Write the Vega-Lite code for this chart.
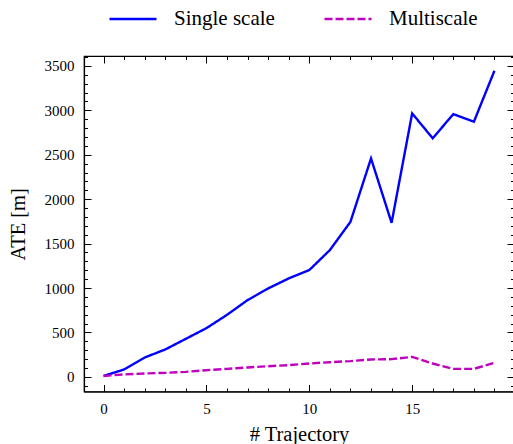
{
  "$schema": "https://vega.github.io/schema/vega-lite/v6.json",
  "autosize": "none",
  "padding": {"left": 84, "top": 56, "right": 0, "bottom": 52},
  "width": 430,
  "height": 335.5,
  "background": "white",
  "config": {
    "view": {"stroke": "black", "strokeWidth": 1.2},
    "font": "Liberation Serif",
    "axis": {
      "labelFont": "Liberation Serif",
      "titleFont": "Liberation Serif",
      "labelColor": "black",
      "titleColor": "black",
      "tickColor": "black",
      "domainColor": "black",
      "domainWidth": 1.2,
      "tickWidth": 1,
      "grid": false,
      "labelFontSize": 15,
      "titleFontSize": 20.5,
      "titleFontWeight": "normal"
    },
    "legend": {
      "labelFont": "Liberation Serif",
      "labelFontSize": 21,
      "labelColor": "black"
    }
  },
  "data": {
    "values": [
      {"traj": 0, "ate": 10, "method": "Single scale"},
      {"traj": 1, "ate": 83, "method": "Single scale"},
      {"traj": 2, "ate": 218, "method": "Single scale"},
      {"traj": 3, "ate": 308, "method": "Single scale"},
      {"traj": 4, "ate": 428, "method": "Single scale"},
      {"traj": 5, "ate": 548, "method": "Single scale"},
      {"traj": 6, "ate": 698, "method": "Single scale"},
      {"traj": 7, "ate": 864, "method": "Single scale"},
      {"traj": 8, "ate": 995, "method": "Single scale"},
      {"traj": 9, "ate": 1108, "method": "Single scale"},
      {"traj": 10, "ate": 1202, "method": "Single scale"},
      {"traj": 11, "ate": 1427, "method": "Single scale"},
      {"traj": 12, "ate": 1745, "method": "Single scale"},
      {"traj": 13, "ate": 2459, "method": "Single scale"},
      {"traj": 14, "ate": 1734, "method": "Single scale"},
      {"traj": 15, "ate": 2966, "method": "Single scale"},
      {"traj": 16, "ate": 2685, "method": "Single scale"},
      {"traj": 17, "ate": 2958, "method": "Single scale"},
      {"traj": 18, "ate": 2872, "method": "Single scale"},
      {"traj": 19, "ate": 3446, "method": "Single scale"},
      {"traj": 0, "ate": 10, "method": "Multiscale"},
      {"traj": 1, "ate": 27, "method": "Multiscale"},
      {"traj": 2, "ate": 38, "method": "Multiscale"},
      {"traj": 3, "ate": 45, "method": "Multiscale"},
      {"traj": 4, "ate": 56, "method": "Multiscale"},
      {"traj": 5, "ate": 75, "method": "Multiscale"},
      {"traj": 6, "ate": 90, "method": "Multiscale"},
      {"traj": 7, "ate": 106, "method": "Multiscale"},
      {"traj": 8, "ate": 120, "method": "Multiscale"},
      {"traj": 9, "ate": 132, "method": "Multiscale"},
      {"traj": 10, "ate": 150, "method": "Multiscale"},
      {"traj": 11, "ate": 165, "method": "Multiscale"},
      {"traj": 12, "ate": 177, "method": "Multiscale"},
      {"traj": 13, "ate": 196, "method": "Multiscale"},
      {"traj": 14, "ate": 199, "method": "Multiscale"},
      {"traj": 15, "ate": 225, "method": "Multiscale"},
      {"traj": 16, "ate": 150, "method": "Multiscale"},
      {"traj": 17, "ate": 90, "method": "Multiscale"},
      {"traj": 18, "ate": 90, "method": "Multiscale"},
      {"traj": 19, "ate": 158, "method": "Multiscale"}
    ]
  },
  "resolve": {"axis": {"x": "independent", "y": "independent"}},
  "layer": [
    {
      "mark": {"type": "line", "strokeWidth": 2.4},
      "encoding": {
        "x": {"field": "traj", "type": "quantitative",
          "scale": {"domain": [-0.95, 19.95], "nice": false, "zero": false},
          "axis": {"orient": "bottom", "values": [0, 5, 10, 15], "tickSize": -7, "labelPadding": 17, "title": "# Trajectory", "titlePadding": 8, "format": "d", "labelFont": "Liberation Serif", "titleFont": "Liberation Serif"}},
        "y": {"field": "ate", "type": "quantitative",
          "scale": {"domain": [-165, 3612], "nice": false, "zero": false},
          "axis": {"orient": "left", "values": [0, 500, 1000, 1500, 2000, 2500, 3000, 3500], "tickSize": -7, "labelPadding": 17, "title": "ATE [m]", "titlePadding": 16, "format": "d", "labelFont": "Liberation Serif", "titleFont": "Liberation Serif"}},
        "color": {"field": "method", "type": "nominal",
          "scale": {"domain": ["Single scale", "Multiscale"], "range": ["#0000ff", "#bf00bf"]},
          "legend": {"orient": "none", "direction": "horizontal", "title": null, "legendX": 24, "legendY": -62, "symbolType": "stroke", "symbolSize": 2209, "symbolStrokeWidth": 2.4, "labelOffset": 16, "columnPadding": 44, "labelFont": "Liberation Serif"}},
        "strokeDash": {"field": "method", "type": "nominal",
          "scale": {"domain": ["Single scale", "Multiscale"], "range": [[1, 0], [8, 3]]},
          "legend": {"orient": "none", "direction": "horizontal", "title": null, "legendX": 24, "legendY": -62, "symbolType": "stroke", "symbolSize": 2209, "symbolStrokeWidth": 2.4, "labelOffset": 16, "columnPadding": 44, "labelFont": "Liberation Serif"}}
      }
    },
    {
      "mark": {"type": "line", "opacity": 0},
      "encoding": {
        "detail": {"field": "method"},
        "x": {"field": "traj", "type": "quantitative",
          "scale": {"domain": [-0.95, 19.95], "nice": false, "zero": false},
          "axis": {"orient": "bottom", "values": [0,1,2,3,4,5,6,7,8,9,10,11,12,13,14,15,16,17,18,19], "tickSize": -3.5, "labels": false, "title": null, "domain": false}},
        "y": {"field": "ate", "type": "quantitative",
          "scale": {"domain": [-165, 3612], "nice": false, "zero": false},
          "axis": {"orient": "left", "values": [-100,0,100,200,300,400,500,600,700,800,900,1000,1100,1200,1300,1400,1500,1600,1700,1800,1900,2000,2100,2200,2300,2400,2500,2600,2700,2800,2900,3000,3100,3200,3300,3400,3500,3600], "tickSize": -3.5, "labels": false, "title": null, "domain": false}}
      }
    },
    {
      "mark": {"type": "line", "opacity": 0},
      "encoding": {
        "detail": {"field": "method"},
        "x": {"field": "traj", "type": "quantitative",
          "scale": {"domain": [-0.95, 19.95], "nice": false, "zero": false},
          "axis": {"orient": "top", "values": [0, 5, 10, 15], "tickSize": -7, "labels": false, "title": null}},
        "y": {"field": "ate", "type": "quantitative",
          "scale": {"domain": [-165, 3612], "nice": false, "zero": false},
          "axis": {"orient": "right", "values": [0, 500, 1000, 1500, 2000, 2500, 3000, 3500], "tickSize": -7, "labels": false, "title": null}}
      }
    },
    {
      "mark": {"type": "line", "opacity": 0},
      "encoding": {
        "detail": {"field": "method"},
        "x": {"field": "traj", "type": "quantitative",
          "scale": {"domain": [-0.95, 19.95], "nice": false, "zero": false},
          "axis": {"orient": "top", "values": [0,1,2,3,4,5,6,7,8,9,10,11,12,13,14,15,16,17,18,19], "tickSize": -3.5, "labels": false, "title": null, "domain": false}},
        "y": {"field": "ate", "type": "quantitative",
          "scale": {"domain": [-165, 3612], "nice": false, "zero": false},
          "axis": {"orient": "right", "values": [-100,0,100,200,300,400,500,600,700,800,900,1000,1100,1200,1300,1400,1500,1600,1700,1800,1900,2000,2100,2200,2300,2400,2500,2600,2700,2800,2900,3000,3100,3200,3300,3400,3500,3600], "tickSize": -3.5, "labels": false, "title": null, "domain": false}}
      }
    }
  ]
}
